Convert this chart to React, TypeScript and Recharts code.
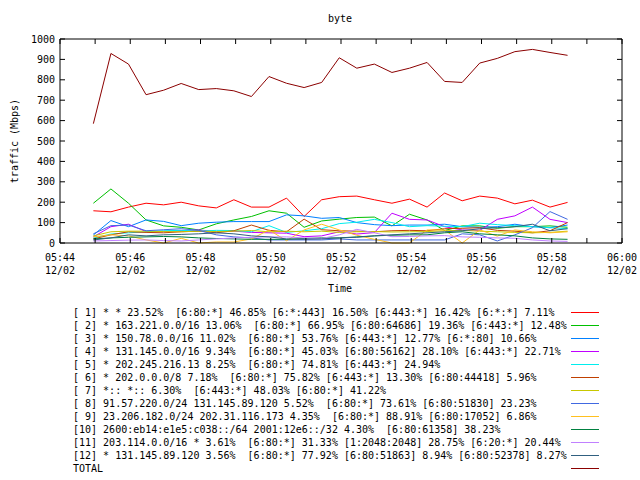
import { LineChart, Line, XAxis, YAxis, ReferenceLine } from 'recharts'

// sample times (one point every 30s)
const TIMES = [
  '05:44:57', '05:45:27', '05:45:57', '05:46:27', '05:46:57', '05:47:27', '05:47:57',
  '05:48:27', '05:48:57', '05:49:27', '05:49:57', '05:50:27', '05:50:57', '05:51:27',
  '05:51:57', '05:52:27', '05:52:57', '05:53:27', '05:53:57', '05:54:27', '05:54:57',
  '05:55:27', '05:55:57', '05:56:27', '05:56:57', '05:57:27', '05:57:57', '05:58:27',
]

const S1 = [158, 153, 176, 195, 187, 200, 182, 172, 212, 176, 176, 220, 130, 212, 227, 230, 212, 195, 215, 176, 245, 207, 230, 220, 192, 210, 176, 199]
const S2 = [195, 265, 195, 113, 84, 77, 64, 94, 113, 130, 158, 146, 77, 108, 117, 125, 127, 84, 141, 113, 61, 84, 84, 72, 80, 80, 84, 77]
const S3 = [39, 110, 80, 113, 106, 85, 97, 102, 105, 105, 105, 138, 133, 121, 125, 100, 90, 85, 88, 88, 92, 80, 77, 80, 92, 80, 75, 88]
const S4 = [30, 80, 92, 56, 56, 61, 64, 56, 58, 52, 50, 48, 31, 35, 55, 44, 51, 146, 116, 113, 80, 64, 62, 116, 133, 176, 116, 100]
const S5 = [24, 44, 50, 55, 60, 62, 58, 62, 61, 55, 85, 52, 60, 70, 95, 102, 116, 100, 80, 85, 82, 80, 97, 90, 85, 80, 75, 70]
const S6 = [20, 40, 55, 52, 50, 55, 58, 50, 60, 88, 62, 55, 117, 65, 60, 58, 55, 60, 62, 60, 70, 72, 75, 62, 58, 50, 60, 100]
const S7 = [35, 55, 58, 58, 56, 55, 58, 56, 58, 61, 55, 58, 55, 58, 52, 55, 56, 54, 55, 56, 60, 62, 58, 55, 52, 50, 52, 58]
const S8 = [45, 85, 88, 60, 65, 70, 62, 40, 30, 25, 15, 15, 15, 15, 20, 15, 15, 15, 15, 15, 15, 45, 40, 10, 40, 75, 154, 116]
const S9 = [30, 40, 35, 15, 0, 23, 0, 5, 5, 20, 64, 11, 64, 92, 64, 38, 18, 0, 0, 64, 64, 0, 64, 34, 64, 55, 50, 55]
const S10 = [20, 25, 28, 30, 32, 30, 25, 22, 20, 18, 18, 18, 22, 25, 25, 30, 35, 38, 40, 40, 50, 55, 45, 40, 35, 25, 20, 18]
const S11 = [10, 12, 14, 15, 12, 10, 15, 20, 25, 28, 30, 30, 25, 22, 40, 67, 50, 31, 32, 35, 36, 30, 28, 25, 23, 15, 10, 8]
const S12 = [15, 25, 40, 35, 40, 42, 45, 50, 45, 35, 30, 20, 18, 20, 25, 28, 35, 40, 45, 50, 55, 60, 70, 75, 80, 92, 60, 70]
const TOTAL = [585, 929, 877, 727, 749, 782, 752, 757, 746, 718, 816, 783, 762, 787, 908, 857, 877, 836, 857, 885, 792, 787, 882, 905, 938, 949, 934, 920]

const SERIES = [S1, S2, S3, S4, S5, S6, S7, S8, S9, S10, S11, S12, TOTAL]

const LABELS = [
  '[ 1] * * 23.52%  [6:80:*] 46.85% [6:*:443] 16.50% [6:443:*] 16.42% [6:*:*] 7.11%',
  '[ 2] * 163.221.0.0/16 13.06%  [6:80:*] 66.95% [6:80:64686] 19.36% [6:443:*] 12.48%',
  '[ 3] * 150.78.0.0/16 11.02%  [6:80:*] 53.76% [6:443:*] 12.77% [6:*:80] 10.66%',
  '[ 4] * 131.145.0.0/16 9.34%  [6:80:*] 45.03% [6:80:56162] 28.10% [6:443:*] 22.71%',
  '[ 5] * 202.245.216.13 8.25%  [6:80:*] 74.81% [6:443:*] 24.94%',
  '[ 6] * 202.0.0.0/8 7.18%  [6:80:*] 75.82% [6:443:*] 13.30% [6:80:44418] 5.96%',
  '[ 7] *:: *:: 6.30%  [6:443:*] 48.03% [6:80:*] 41.22%',
  '[ 8] 91.57.220.0/24 131.145.89.120 5.52%  [6:80:*] 73.61% [6:80:51830] 23.23%',
  '[ 9] 23.206.182.0/24 202.31.116.173 4.35%  [6:80:*] 88.91% [6:80:17052] 6.86%',
  '[10] 2600:eb14:e1e5:c038::/64 2001:12e6::/32 4.30%  [6:80:61358] 38.23%',
  '[11] 203.114.0.0/16 * 3.61%  [6:80:*] 31.33% [1:2048:2048] 28.75% [6:20:*] 20.44%',
  '[12] * 131.145.89.120 3.56%  [6:80:*] 77.92% [6:80:51863] 8.94% [6:80:52378] 8.27%',
  'TOTAL',
]

const COLORS = [
  '#ff0000', '#00c000', '#0080ff', '#c000ff', '#00eeee', '#c04000', '#c8c800',
  '#4169e1', '#ffc020', '#008040', '#c080ff', '#306080', '#8b0000',
]

const X_TICKS = [0, 1, 2, 3, 4, 5, 6, 7, 8, 9, 10, 11, 12, 13, 14, 15, 16]
const Y_TICKS = [0, 100, 200, 300, 400, 500, 600, 700, 800, 900, 1000]
const DATE_LABEL = '12/02'

const FONT = '"DejaVu Sans Mono", monospace'
const PLOT_LEFT = 60
const PLOT_RIGHT = 622
const PLOT_TOP = 39
const PLOT_BOTTOM = 243

// minutes since 05:44
const toMinutes = (s: string) => {
  const [h, m, sec] = s.split(':').map(Number)
  return h * 60 + m + sec / 60 - (5 * 60 + 44)
}

const data = TIMES.map((t, i) => {
  const row: Record<string, number> = { t: toMinutes(t) }
  SERIES.forEach((s, k) => { row[`s${k}`] = s[i] })
  return row
})

const minuteLabel = (m: number) => {
  const total = 5 * 60 + 44 + m
  const hh = String(Math.floor(total / 60)).padStart(2, '0')
  const mm = String(total % 60).padStart(2, '0')
  return `${hh}:${mm}`
}

function XTick(props: any) {
  const { x, payload } = props
  const m = payload.value as number
  return (
    <g>
      <line x1={x} x2={x} y1={PLOT_BOTTOM} y2={PLOT_BOTTOM - 5} stroke="#000" />
      <line x1={x} x2={x} y1={PLOT_TOP} y2={PLOT_TOP + 5} stroke="#000" />
      {m % 2 === 0 && (
        <text x={x} textAnchor="middle" fontFamily={FONT} fontSize={10} fill="#000">
          <tspan x={x} y={PLOT_BOTTOM + 18}>{minuteLabel(m)}</tspan>
          <tspan x={x} y={PLOT_BOTTOM + 31}>{DATE_LABEL}</tspan>
        </text>
      )}
    </g>
  )
}

function YTick(props: any) {
  const { y, payload } = props
  return (
    <g>
      <line x1={PLOT_LEFT} x2={PLOT_LEFT + 5} y1={y} y2={y} stroke="#000" />
      <line x1={PLOT_RIGHT} x2={PLOT_RIGHT - 5} y1={y} y2={y} stroke="#000" />
      <text x={PLOT_LEFT - 5} y={y + 3.5} textAnchor="end" fontFamily={FONT} fontSize={10} fill="#000">
        {payload.value}
      </text>
    </g>
  )
}

export default function App() {
  return (
    <div style={{ position: 'absolute', left: 0, top: 0, width: 640, height: 480, background: '#fff', fontFamily: FONT, fontSize: 10 }}>
      <LineChart width={640} height={480} data={data} margin={{ top: PLOT_TOP, right: 640 - PLOT_RIGHT, left: 0, bottom: 207 }}>
        <XAxis
          dataKey="t"
          type="number"
          domain={[0, 16]}
          ticks={X_TICKS}
          interval={0}
          height={30}
          tickLine={false}
          stroke="#000"
          tick={<XTick />}
        />
        <YAxis
          type="number"
          domain={[0, 1000]}
          ticks={Y_TICKS}
          interval={0}
          width={PLOT_LEFT}
          tickLine={false}
          stroke="#000"
          tick={<YTick />}
        />
        <ReferenceLine y={1000} stroke="#000" />
        <ReferenceLine x={16} stroke="#000" />
        {SERIES.map((_, k) => (
          <Line
            key={k}
            dataKey={`s${k}`}
            stroke={COLORS[k]}
            strokeWidth={1}
            dot={false}
            type="linear"
            isAnimationActive={false}
          />
        ))}
      </LineChart>

      <div style={{ position: 'absolute', left: 0, width: 680, top: 13, textAlign: 'center' }}>byte</div>
      <div style={{ position: 'absolute', left: 0, width: 680, top: 283, textAlign: 'center' }}>Time</div>
      <div style={{ position: 'absolute', left: 14, top: 141, transform: 'translate(-50%, -50%) rotate(-90deg)', whiteSpace: 'nowrap' }}>
        traffic (Mbps)
      </div>

      <div style={{ position: 'absolute', left: 73, top: 306 }}>
        {LABELS.map((label, k) => (
          <div key={k} style={{ height: 13, lineHeight: '13px', whiteSpace: 'pre', position: 'relative' }}>
            {label}
            <svg width={30} height={13} style={{ position: 'absolute', left: 497, top: 0 }}>
              <line x1={1} x2={29} y1={6.5} y2={6.5} stroke={COLORS[k]} strokeWidth={1} />
            </svg>
          </div>
        ))}
      </div>
    </div>
  )
}
